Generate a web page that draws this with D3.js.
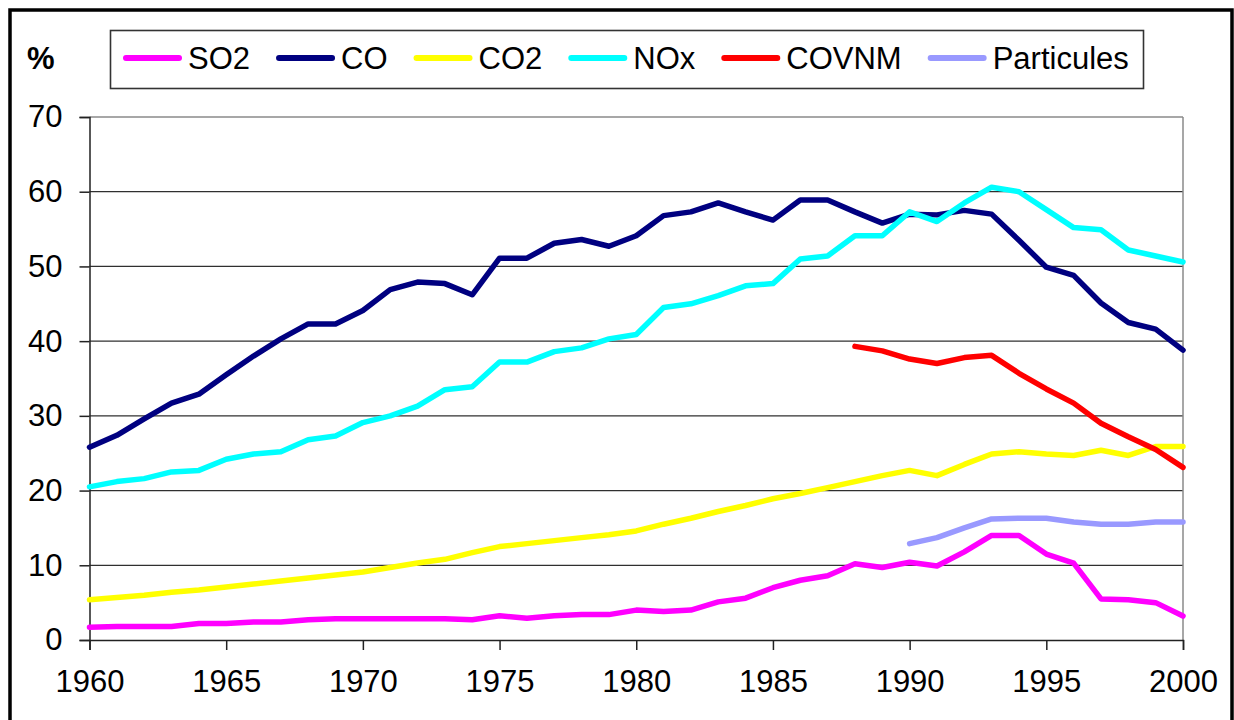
<!DOCTYPE html>
<html>
<head>
<meta charset="utf-8">
<script src="https://cdn.jsdelivr.net/npm/d3@7"></script>
<style>
  html, body { margin: 0; padding: 0; background: #fff; }
  svg { display: block; font-family: "Liberation Sans", Arial, sans-serif; }
</style>
</head>
<body>
<svg id="chart" width="1234" height="720"></svg>
<script>
// ---------- data ----------
const years = d3.range(1960, 2001);
const seriesNames = ["SO2", "CO", "CO2", "NOx", "COVNM", "Particules"];
const seriesColors = ["#FF00FF", "#000080", "#FFFF00", "#00FFFF", "#FF0000", "#9999FF"];

const so2 = [1.7, 1.8, 1.8, 1.8, 2.2, 2.2, 2.4, 2.4, 2.7, 2.85,
             2.85, 2.85, 2.85, 2.85, 2.7, 3.25, 2.9, 3.25, 3.4, 3.4,
             4.0, 3.8, 4.0, 5.1, 5.6, 7.0, 8.0, 8.6, 10.2, 9.7,
             10.4, 9.9, 11.8, 14.0, 14.0, 11.5, 10.3, 5.5, 5.4, 5.0, 3.2];
const co = [25.8, 27.4, 29.6, 31.7, 32.9, 35.5, 38.0, 40.3, 42.3, 42.3,
            44.1, 46.9, 47.9, 47.7, 46.2, 51.1, 51.1, 53.1, 53.6, 52.7,
            54.1, 56.8, 57.3, 58.5, 57.3, 56.2, 58.9, 58.9, 57.3, 55.8,
            57.0, 56.9, 57.5, 57.0, 53.5, 49.9, 48.8, 45.1, 42.5, 41.6, 38.8];
const co2 = [5.4, 5.7, 6.0, 6.4, 6.7, 7.1, 7.5, 7.9, 8.3, 8.7,
             9.1, 9.7, 10.3, 10.8, 11.7, 12.5, 12.9, 13.3, 13.7, 14.1,
             14.6, 15.5, 16.3, 17.2, 18.0, 18.9, 19.6, 20.4, 21.2, 22.0,
             22.7, 22.0, 23.5, 24.9, 25.2, 24.9, 24.7, 25.4, 24.7, 25.9, 25.9];
const nox = [20.5, 21.2, 21.6, 22.5, 22.7, 24.2, 24.9, 25.2, 26.8, 27.3,
             29.1, 30.0, 31.3, 33.5, 33.9, 37.2, 37.2, 38.6, 39.1, 40.3,
             40.9, 44.5, 45.0, 46.1, 47.4, 47.7, 51.0, 51.4, 54.1, 54.1,
             57.3, 56.0, 58.5, 60.6, 60.0, 57.6, 55.2, 54.9, 52.2, 51.4, 50.6];
const covnm = [null, null, null, null, null, null, null, null, null, null,
               null, null, null, null, null, null, null, null, null, null,
               null, null, null, null, null, null, null, null, 39.3, 38.7,
               37.6, 37.0, 37.8, 38.1, 35.7, 33.6, 31.7, 29.0, 27.2, 25.5, 23.1];
const particules = [null, null, null, null, null, null, null, null, null, null,
                    null, null, null, null, null, null, null, null, null, null,
                    null, null, null, null, null, null, null, null, null, null,
                    12.9, 13.7, 15.0, 16.2, 16.3, 16.3, 15.8, 15.5, 15.5, 15.8, 15.8];
const seriesValues = [so2, co, co2, nox, covnm, particules];

const yTicks = [0, 10, 20, 30, 40, 50, 60, 70];
const xTicks = [1960, 1965, 1970, 1975, 1980, 1985, 1990, 1995, 2000];
const yUnit = "%";

// ---------- layout ----------
const svg = d3.select("#chart");
const pLeft = 89.5, pRight = 1183, pTop = 117, pBottom = 640;
const x = d3.scaleLinear().domain([1960, 2000]).range([pLeft, pRight]);
const y = d3.scaleLinear().domain([0, 70]).range([pBottom, pTop]);
const FONT = 31;

// outer frame
svg.append("rect")
  .attr("x", 10).attr("y", 10).attr("width", 1222).attr("height", 730)
  .attr("fill", "#fff").attr("stroke", "#000").attr("stroke-width", 3.5);

// gridlines
svg.append("g").selectAll("line")
  .data(yTicks.filter(t => t > 0 && t < 70))
  .join("line")
  .attr("x1", pLeft).attr("x2", pRight)
  .attr("y1", d => y(d)).attr("y2", d => y(d))
  .attr("stroke", "#303030").attr("stroke-width", 1.3);

// plot border top & right (gray)
svg.append("line").attr("x1", pLeft).attr("x2", pRight).attr("y1", y(70)).attr("y2", y(70))
  .attr("stroke", "#8a8a8a").attr("stroke-width", 1.5);
svg.append("line").attr("x1", pRight).attr("x2", pRight).attr("y1", pTop).attr("y2", pBottom)
  .attr("stroke", "#8a8a8a").attr("stroke-width", 1.5);

// y axis
const yAxis = d3.axisLeft(y).tickValues(yTicks).tickSize(10).tickPadding(17)
  .tickFormat(d3.format("d"));
const gy = svg.append("g").attr("transform", `translate(${pLeft},0)`).call(yAxis);
gy.select(".domain").attr("stroke", "#222").attr("stroke-width", 1.5);
gy.selectAll(".tick line").attr("stroke", "#222").attr("stroke-width", 1.5);
gy.selectAll(".tick text").attr("font-size", FONT).attr("fill", "#000")
  .attr("font-family", "Liberation Sans, Arial, sans-serif");

// x axis
const xAxis = d3.axisBottom(x).tickValues(xTicks).tickSize(10).tickPadding(20)
  .tickFormat(d3.format("d"));
const gx = svg.append("g").attr("transform", `translate(0,${pBottom})`).call(xAxis);
gx.select(".domain").attr("stroke", "#222").attr("stroke-width", 1.5);
gx.selectAll(".tick line").attr("stroke", "#222").attr("stroke-width", 1.5);
gx.selectAll(".tick text").attr("font-size", FONT).attr("fill", "#000")
  .attr("font-family", "Liberation Sans, Arial, sans-serif");

// lines
const line = d3.line()
  .defined(d => d.v !== null)
  .x(d => x(d.year)).y(d => y(d.v));
const gLines = svg.append("g");
seriesNames.forEach((name, i) => {
  const pts = years.map((yr, j) => ({ year: yr, v: seriesValues[i][j] }));
  gLines.append("path")
    .datum(pts)
    .attr("d", line)
    .attr("fill", "none")
    .attr("stroke", seriesColors[i])
    .attr("stroke-width", 5.5)
    .attr("stroke-linejoin", "round")
    .attr("stroke-linecap", "round");
});

// unit label
svg.append("text").attr("x", 27).attr("y", 69)
  .attr("font-size", FONT).attr("font-weight", "bold").text(yUnit);

// legend
const legend = svg.append("g");
legend.append("rect")
  .attr("x", 110.5).attr("y", 30.5).attr("width", 1033).attr("height", 58)
  .attr("fill", "#fff").attr("stroke", "#333").attr("stroke-width", 1.6);
let lx = 126;
seriesNames.forEach((name, i) => {
  legend.append("line")
    .attr("x1", lx).attr("x2", lx + 53).attr("y1", 58).attr("y2", 58)
    .attr("stroke", seriesColors[i]).attr("stroke-width", 6)
    .attr("stroke-linecap", "round");
  const t = legend.append("text")
    .attr("x", lx + 62).attr("y", 69)
    .attr("font-size", FONT).attr("fill", "#000").text(name);
  const w = t.node().getComputedTextLength();
  lx = lx + 62 + w + 29;
});
</script>
</body>
</html>
